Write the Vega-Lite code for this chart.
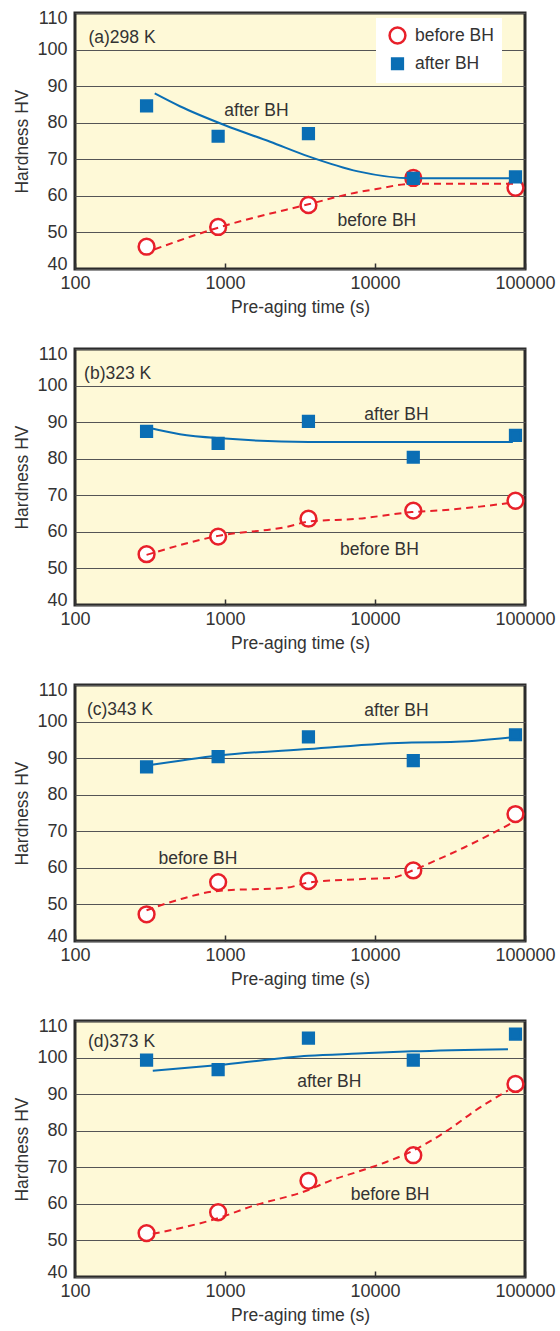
{
  "$schema": "https://vega.github.io/schema/vega-lite/v6.json",
  "autosize": "pad",
  "padding": {"left": 12, "top": 7, "right": 2, "bottom": 4},
  "background": "white",
  "datasets": {
    "points": [
      {"p": "a", "s": "before BH", "t": 300, "hv": 46.1},
      {"p": "a", "s": "before BH", "t": 900, "hv": 51.5},
      {"p": "a", "s": "before BH", "t": 3600, "hv": 57.5},
      {"p": "a", "s": "before BH", "t": 18000, "hv": 64.9},
      {"p": "a", "s": "before BH", "t": 86400, "hv": 62.2},
      {"p": "a", "s": "after BH", "t": 300, "hv": 84.6},
      {"p": "a", "s": "after BH", "t": 900, "hv": 76.3},
      {"p": "a", "s": "after BH", "t": 3600, "hv": 77.0},
      {"p": "a", "s": "after BH", "t": 18000, "hv": 64.8},
      {"p": "a", "s": "after BH", "t": 86400, "hv": 65.2},
      {"p": "b", "s": "before BH", "t": 300, "hv": 53.9},
      {"p": "b", "s": "before BH", "t": 900, "hv": 58.7},
      {"p": "b", "s": "before BH", "t": 3600, "hv": 63.6},
      {"p": "b", "s": "before BH", "t": 18000, "hv": 65.8},
      {"p": "b", "s": "before BH", "t": 86400, "hv": 68.5},
      {"p": "b", "s": "after BH", "t": 300, "hv": 87.5},
      {"p": "b", "s": "after BH", "t": 900, "hv": 84.2},
      {"p": "b", "s": "after BH", "t": 3600, "hv": 90.2},
      {"p": "b", "s": "after BH", "t": 18000, "hv": 80.4},
      {"p": "b", "s": "after BH", "t": 86400, "hv": 86.4},
      {"p": "c", "s": "before BH", "t": 300, "hv": 47.3},
      {"p": "c", "s": "before BH", "t": 900, "hv": 56.1},
      {"p": "c", "s": "before BH", "t": 3600, "hv": 56.4},
      {"p": "c", "s": "before BH", "t": 18000, "hv": 59.3},
      {"p": "c", "s": "before BH", "t": 86400, "hv": 74.7},
      {"p": "c", "s": "after BH", "t": 300, "hv": 87.6},
      {"p": "c", "s": "after BH", "t": 900, "hv": 90.4},
      {"p": "c", "s": "after BH", "t": 3600, "hv": 95.8},
      {"p": "c", "s": "after BH", "t": 18000, "hv": 89.3},
      {"p": "c", "s": "after BH", "t": 86400, "hv": 96.4},
      {"p": "d", "s": "before BH", "t": 300, "hv": 52.0},
      {"p": "d", "s": "before BH", "t": 900, "hv": 57.7},
      {"p": "d", "s": "before BH", "t": 3600, "hv": 66.3},
      {"p": "d", "s": "before BH", "t": 18000, "hv": 73.3},
      {"p": "d", "s": "before BH", "t": 86400, "hv": 92.8},
      {"p": "d", "s": "after BH", "t": 300, "hv": 99.3},
      {"p": "d", "s": "after BH", "t": 900, "hv": 96.7},
      {"p": "d", "s": "after BH", "t": 3600, "hv": 105.3},
      {"p": "d", "s": "after BH", "t": 18000, "hv": 99.3},
      {"p": "d", "s": "after BH", "t": 86400, "hv": 106.4}
    ],
    "curves": [
      {"p": "a", "s": "after BH", "t": 340, "hv": 88.0},
      {"p": "a", "s": "after BH", "t": 500, "hv": 84.5},
      {"p": "a", "s": "after BH", "t": 1000, "hv": 79.3},
      {"p": "a", "s": "after BH", "t": 2000, "hv": 74.8},
      {"p": "a", "s": "after BH", "t": 3600, "hv": 70.8},
      {"p": "a", "s": "after BH", "t": 7700, "hv": 66.7},
      {"p": "a", "s": "after BH", "t": 17600, "hv": 64.8},
      {"p": "a", "s": "after BH", "t": 85000, "hv": 64.8},
      {"p": "a", "s": "before BH", "t": 340, "hv": 45.4},
      {"p": "a", "s": "before BH", "t": 900, "hv": 51.3},
      {"p": "a", "s": "before BH", "t": 3600, "hv": 57.7},
      {"p": "a", "s": "before BH", "t": 7700, "hv": 61.0},
      {"p": "a", "s": "before BH", "t": 10000, "hv": 61.8},
      {"p": "a", "s": "before BH", "t": 17800, "hv": 63.3},
      {"p": "a", "s": "before BH", "t": 85000, "hv": 63.3},
      {"p": "b", "s": "after BH", "t": 300, "hv": 88.6},
      {"p": "b", "s": "after BH", "t": 500, "hv": 86.7},
      {"p": "b", "s": "after BH", "t": 1000, "hv": 85.5},
      {"p": "b", "s": "after BH", "t": 3600, "hv": 84.6},
      {"p": "b", "s": "after BH", "t": 83000, "hv": 84.6},
      {"p": "b", "s": "before BH", "t": 300, "hv": 53.7},
      {"p": "b", "s": "before BH", "t": 900, "hv": 58.9},
      {"p": "b", "s": "before BH", "t": 2600, "hv": 61.4},
      {"p": "b", "s": "before BH", "t": 3600, "hv": 62.8},
      {"p": "b", "s": "before BH", "t": 7700, "hv": 63.6},
      {"p": "b", "s": "before BH", "t": 17600, "hv": 65.4},
      {"p": "b", "s": "before BH", "t": 28000, "hv": 65.9},
      {"p": "b", "s": "before BH", "t": 50000, "hv": 66.9},
      {"p": "b", "s": "before BH", "t": 83000, "hv": 68.0},
      {"p": "c", "s": "after BH", "t": 300, "hv": 88.0},
      {"p": "c", "s": "after BH", "t": 500, "hv": 89.3},
      {"p": "c", "s": "after BH", "t": 900, "hv": 90.7},
      {"p": "c", "s": "after BH", "t": 3600, "hv": 92.5},
      {"p": "c", "s": "after BH", "t": 17600, "hv": 94.3},
      {"p": "c", "s": "after BH", "t": 32000, "hv": 94.4},
      {"p": "c", "s": "after BH", "t": 83000, "hv": 95.7},
      {"p": "c", "s": "before BH", "t": 300, "hv": 48.4},
      {"p": "c", "s": "before BH", "t": 500, "hv": 51.4},
      {"p": "c", "s": "before BH", "t": 900, "hv": 53.7},
      {"p": "c", "s": "before BH", "t": 2600, "hv": 54.6},
      {"p": "c", "s": "before BH", "t": 3600, "hv": 56.0},
      {"p": "c", "s": "before BH", "t": 7700, "hv": 56.9},
      {"p": "c", "s": "before BH", "t": 13000, "hv": 57.3},
      {"p": "c", "s": "before BH", "t": 17600, "hv": 59.2},
      {"p": "c", "s": "before BH", "t": 25000, "hv": 61.9},
      {"p": "c", "s": "before BH", "t": 39000, "hv": 65.5},
      {"p": "c", "s": "before BH", "t": 83000, "hv": 72.4},
      {"p": "d", "s": "after BH", "t": 330, "hv": 96.4},
      {"p": "d", "s": "after BH", "t": 1000, "hv": 98.1},
      {"p": "d", "s": "after BH", "t": 3600, "hv": 100.5},
      {"p": "d", "s": "after BH", "t": 7700, "hv": 101.1},
      {"p": "d", "s": "after BH", "t": 17600, "hv": 101.7},
      {"p": "d", "s": "after BH", "t": 77000, "hv": 102.3},
      {"p": "d", "s": "before BH", "t": 330, "hv": 51.8},
      {"p": "d", "s": "before BH", "t": 900, "hv": 56.1},
      {"p": "d", "s": "before BH", "t": 1500, "hv": 59.3},
      {"p": "d", "s": "before BH", "t": 3600, "hv": 63.8},
      {"p": "d", "s": "before BH", "t": 5000, "hv": 66.3},
      {"p": "d", "s": "before BH", "t": 7700, "hv": 68.8},
      {"p": "d", "s": "before BH", "t": 12000, "hv": 71.5},
      {"p": "d", "s": "before BH", "t": 17600, "hv": 74.4},
      {"p": "d", "s": "before BH", "t": 30500, "hv": 80.1},
      {"p": "d", "s": "before BH", "t": 47000, "hv": 85.6},
      {"p": "d", "s": "before BH", "t": 77000, "hv": 91.0}
    ],
    "labels": [
      {"p": "a", "txt": "(a)298 K", "t": 123, "hv": 103.3, "al": "left"},
      {"p": "a", "txt": "after BH", "t": 1620, "hv": 83.1, "al": "center"},
      {"p": "a", "txt": "before BH", "t": 10280, "hv": 53.1, "al": "center"},
      {"p": "b", "txt": "(b)323 K", "t": 115, "hv": 103.2, "al": "left"},
      {"p": "b", "txt": "after BH", "t": 13900, "hv": 91.9, "al": "center"},
      {"p": "b", "txt": "before BH", "t": 10700, "hv": 55.1, "al": "center"},
      {"p": "c", "txt": "(c)343 K", "t": 120, "hv": 103.1, "al": "left"},
      {"p": "c", "txt": "after BH", "t": 13900, "hv": 103.0, "al": "center"},
      {"p": "c", "txt": "before BH", "t": 660, "hv": 62.4, "al": "center"},
      {"p": "d", "txt": "(d)373 K", "t": 122, "hv": 104.3, "al": "left"},
      {"p": "d", "txt": "after BH", "t": 4960, "hv": 93.4, "al": "center"},
      {"p": "d", "txt": "before BH", "t": 12600, "hv": 62.5, "al": "center"}
    ]
  },
  "vconcat": [
    {
      "width": 450, "height": 256,
      "encoding": {
        "x": {"field": "t", "type": "quantitative", "scale": {"type": "log", "domain": [100, 100000]}, "axis": {"title": "Pre-aging time (s)", "values": [100, 1000, 10000, 100000], "format": "d", "grid": false, "ticks": true, "tickSize": -6, "tickColor": "#333", "tickWidth": 1.5, "labelPadding": 11, "titlePadding": 6, "labelFlush": false}},
        "y": {"field": "hv", "type": "quantitative", "scale": {"domain": [40, 110], "nice": false, "zero": false}, "axis": {"title": "Hardness HV", "values": [40, 50, 60, 70, 80, 90, 100, 110], "grid": true, "ticks": false, "labelPadding": 8, "titlePadding": 5, "labelOverlap": false, "labelFlush": true, "labelFlushOffset": 4}}
      },
      "layer": [
        {"data": {"name": "points"}, "transform": [{"filter": "datum.p == 'a' && datum.s == 'before BH'"}],
         "mark": {"type": "point", "strokeWidth": 2.5, "opacity": 1},
         "encoding": {
           "shape": {"field": "s", "type": "nominal", "scale": {"domain": ["before BH", "after BH"], "range": ["circle", "square"]}, "legend": {"orient": "none", "legendX": 301, "legendY": 5, "title": null}},
           "fill": {"field": "s", "type": "nominal", "scale": {"domain": ["before BH", "after BH"], "range": ["#ffffff", "#0a6eb4"]}, "legend": {"orient": "none", "legendX": 301, "legendY": 5, "title": null}},
           "stroke": {"field": "s", "type": "nominal", "scale": {"domain": ["before BH", "after BH"], "range": ["#e8202a", "#0a6eb4"]}, "legend": {"orient": "none", "legendX": 301, "legendY": 5, "title": null}},
           "size": {"field": "s", "type": "nominal", "scale": {"domain": ["before BH", "after BH"], "range": [250, 115]}, "legend": {"orient": "none", "legendX": 301, "legendY": 5, "title": null}}
         }},
        {"data": {"name": "curves"}, "transform": [{"filter": "datum.p == 'a' && datum.s == 'after BH'"}],
         "mark": {"type": "line", "color": "#0a6eb4", "strokeWidth": 2, "interpolate": "monotone"}},
        {"data": {"name": "curves"}, "transform": [{"filter": "datum.p == 'a' && datum.s == 'before BH'"}],
         "mark": {"type": "line", "color": "#e8202a", "strokeWidth": 2, "strokeDash": [7, 5], "interpolate": "monotone"}},
        {"data": {"name": "points"}, "transform": [{"filter": "datum.p == 'a' && datum.s == 'after BH'"}],
         "mark": {"type": "point", "strokeWidth": 2.5, "opacity": 1},
         "encoding": {
           "shape": {"field": "s", "type": "nominal"},
           "fill": {"field": "s", "type": "nominal"},
           "stroke": {"field": "s", "type": "nominal"},
           "size": {"field": "s", "type": "nominal"}
         }},
        {"data": {"name": "labels"}, "transform": [{"filter": "datum.p == 'a' && datum.al == 'left'"}],
         "mark": {"type": "text", "fontSize": 17.5, "color": "#333", "baseline": "middle", "align": "left"},
         "encoding": {"text": {"field": "txt"}}},
        {"data": {"name": "labels"}, "transform": [{"filter": "datum.p == 'a' && datum.al == 'center'"}],
         "mark": {"type": "text", "fontSize": 17.5, "color": "#333", "baseline": "middle", "align": "center"},
         "encoding": {"text": {"field": "txt"}}}
      ]
    },
    {
      "width": 450, "height": 256,
      "encoding": {
        "x": {"field": "t", "type": "quantitative", "scale": {"type": "log", "domain": [100, 100000]}, "axis": {"title": "Pre-aging time (s)", "values": [100, 1000, 10000, 100000], "format": "d", "grid": false, "ticks": true, "tickSize": -6, "tickColor": "#333", "tickWidth": 1.5, "labelPadding": 11, "titlePadding": 6, "labelFlush": false}},
        "y": {"field": "hv", "type": "quantitative", "scale": {"domain": [40, 110], "nice": false, "zero": false}, "axis": {"title": "Hardness HV", "values": [40, 50, 60, 70, 80, 90, 100, 110], "grid": true, "ticks": false, "labelPadding": 8, "titlePadding": 5, "labelOverlap": false, "labelFlush": true, "labelFlushOffset": 4}}
      },
      "layer": [
        {"data": {"name": "points"}, "transform": [{"filter": "datum.p == 'b' && datum.s == 'before BH'"}],
         "mark": {"type": "point", "strokeWidth": 2.5, "opacity": 1},
         "encoding": {
           "shape": {"field": "s", "type": "nominal", "scale": {"domain": ["before BH", "after BH"], "range": ["circle", "square"]}, "legend": null},
           "fill": {"field": "s", "type": "nominal", "scale": {"domain": ["before BH", "after BH"], "range": ["#ffffff", "#0a6eb4"]}, "legend": null},
           "stroke": {"field": "s", "type": "nominal", "scale": {"domain": ["before BH", "after BH"], "range": ["#e8202a", "#0a6eb4"]}, "legend": null},
           "size": {"field": "s", "type": "nominal", "scale": {"domain": ["before BH", "after BH"], "range": [250, 115]}, "legend": null}
         }},
        {"data": {"name": "curves"}, "transform": [{"filter": "datum.p == 'b' && datum.s == 'after BH'"}],
         "mark": {"type": "line", "color": "#0a6eb4", "strokeWidth": 2, "interpolate": "monotone"}},
        {"data": {"name": "curves"}, "transform": [{"filter": "datum.p == 'b' && datum.s == 'before BH'"}],
         "mark": {"type": "line", "color": "#e8202a", "strokeWidth": 2, "strokeDash": [7, 5], "interpolate": "monotone"}},
        {"data": {"name": "points"}, "transform": [{"filter": "datum.p == 'b' && datum.s == 'after BH'"}],
         "mark": {"type": "point", "strokeWidth": 2.5, "opacity": 1},
         "encoding": {
           "shape": {"field": "s", "type": "nominal", "legend": null},
           "fill": {"field": "s", "type": "nominal", "legend": null},
           "stroke": {"field": "s", "type": "nominal", "legend": null},
           "size": {"field": "s", "type": "nominal", "legend": null}
         }},
        {"data": {"name": "labels"}, "transform": [{"filter": "datum.p == 'b' && datum.al == 'left'"}],
         "mark": {"type": "text", "fontSize": 17.5, "color": "#333", "baseline": "middle", "align": "left"},
         "encoding": {"text": {"field": "txt"}}},
        {"data": {"name": "labels"}, "transform": [{"filter": "datum.p == 'b' && datum.al == 'center'"}],
         "mark": {"type": "text", "fontSize": 17.5, "color": "#333", "baseline": "middle", "align": "center"},
         "encoding": {"text": {"field": "txt"}}}
      ]
    },
    {
      "width": 450, "height": 256,
      "encoding": {
        "x": {"field": "t", "type": "quantitative", "scale": {"type": "log", "domain": [100, 100000]}, "axis": {"title": "Pre-aging time (s)", "values": [100, 1000, 10000, 100000], "format": "d", "grid": false, "ticks": true, "tickSize": -6, "tickColor": "#333", "tickWidth": 1.5, "labelPadding": 11, "titlePadding": 6, "labelFlush": false}},
        "y": {"field": "hv", "type": "quantitative", "scale": {"domain": [40, 110], "nice": false, "zero": false}, "axis": {"title": "Hardness HV", "values": [40, 50, 60, 70, 80, 90, 100, 110], "grid": true, "ticks": false, "labelPadding": 8, "titlePadding": 5, "labelOverlap": false, "labelFlush": true, "labelFlushOffset": 4}}
      },
      "layer": [
        {"data": {"name": "points"}, "transform": [{"filter": "datum.p == 'c' && datum.s == 'before BH'"}],
         "mark": {"type": "point", "strokeWidth": 2.5, "opacity": 1},
         "encoding": {
           "shape": {"field": "s", "type": "nominal", "scale": {"domain": ["before BH", "after BH"], "range": ["circle", "square"]}, "legend": null},
           "fill": {"field": "s", "type": "nominal", "scale": {"domain": ["before BH", "after BH"], "range": ["#ffffff", "#0a6eb4"]}, "legend": null},
           "stroke": {"field": "s", "type": "nominal", "scale": {"domain": ["before BH", "after BH"], "range": ["#e8202a", "#0a6eb4"]}, "legend": null},
           "size": {"field": "s", "type": "nominal", "scale": {"domain": ["before BH", "after BH"], "range": [250, 115]}, "legend": null}
         }},
        {"data": {"name": "curves"}, "transform": [{"filter": "datum.p == 'c' && datum.s == 'after BH'"}],
         "mark": {"type": "line", "color": "#0a6eb4", "strokeWidth": 2, "interpolate": "monotone"}},
        {"data": {"name": "curves"}, "transform": [{"filter": "datum.p == 'c' && datum.s == 'before BH'"}],
         "mark": {"type": "line", "color": "#e8202a", "strokeWidth": 2, "strokeDash": [7, 5], "interpolate": "monotone"}},
        {"data": {"name": "points"}, "transform": [{"filter": "datum.p == 'c' && datum.s == 'after BH'"}],
         "mark": {"type": "point", "strokeWidth": 2.5, "opacity": 1},
         "encoding": {
           "shape": {"field": "s", "type": "nominal", "legend": null},
           "fill": {"field": "s", "type": "nominal", "legend": null},
           "stroke": {"field": "s", "type": "nominal", "legend": null},
           "size": {"field": "s", "type": "nominal", "legend": null}
         }},
        {"data": {"name": "labels"}, "transform": [{"filter": "datum.p == 'c' && datum.al == 'left'"}],
         "mark": {"type": "text", "fontSize": 17.5, "color": "#333", "baseline": "middle", "align": "left"},
         "encoding": {"text": {"field": "txt"}}},
        {"data": {"name": "labels"}, "transform": [{"filter": "datum.p == 'c' && datum.al == 'center'"}],
         "mark": {"type": "text", "fontSize": 17.5, "color": "#333", "baseline": "middle", "align": "center"},
         "encoding": {"text": {"field": "txt"}}}
      ]
    },
    {
      "width": 450, "height": 256,
      "encoding": {
        "x": {"field": "t", "type": "quantitative", "scale": {"type": "log", "domain": [100, 100000]}, "axis": {"title": "Pre-aging time (s)", "values": [100, 1000, 10000, 100000], "format": "d", "grid": false, "ticks": true, "tickSize": -6, "tickColor": "#333", "tickWidth": 1.5, "labelPadding": 11, "titlePadding": 6, "labelFlush": false}},
        "y": {"field": "hv", "type": "quantitative", "scale": {"domain": [40, 110], "nice": false, "zero": false}, "axis": {"title": "Hardness HV", "values": [40, 50, 60, 70, 80, 90, 100, 110], "grid": true, "ticks": false, "labelPadding": 8, "titlePadding": 5, "labelOverlap": false, "labelFlush": true, "labelFlushOffset": 4}}
      },
      "layer": [
        {"data": {"name": "points"}, "transform": [{"filter": "datum.p == 'd' && datum.s == 'before BH'"}],
         "mark": {"type": "point", "strokeWidth": 2.5, "opacity": 1},
         "encoding": {
           "shape": {"field": "s", "type": "nominal", "scale": {"domain": ["before BH", "after BH"], "range": ["circle", "square"]}, "legend": null},
           "fill": {"field": "s", "type": "nominal", "scale": {"domain": ["before BH", "after BH"], "range": ["#ffffff", "#0a6eb4"]}, "legend": null},
           "stroke": {"field": "s", "type": "nominal", "scale": {"domain": ["before BH", "after BH"], "range": ["#e8202a", "#0a6eb4"]}, "legend": null},
           "size": {"field": "s", "type": "nominal", "scale": {"domain": ["before BH", "after BH"], "range": [250, 115]}, "legend": null}
         }},
        {"data": {"name": "curves"}, "transform": [{"filter": "datum.p == 'd' && datum.s == 'after BH'"}],
         "mark": {"type": "line", "color": "#0a6eb4", "strokeWidth": 2, "interpolate": "monotone"}},
        {"data": {"name": "curves"}, "transform": [{"filter": "datum.p == 'd' && datum.s == 'before BH'"}],
         "mark": {"type": "line", "color": "#e8202a", "strokeWidth": 2, "strokeDash": [7, 5], "interpolate": "monotone"}},
        {"data": {"name": "points"}, "transform": [{"filter": "datum.p == 'd' && datum.s == 'after BH'"}],
         "mark": {"type": "point", "strokeWidth": 2.5, "opacity": 1},
         "encoding": {
           "shape": {"field": "s", "type": "nominal", "legend": null},
           "fill": {"field": "s", "type": "nominal", "legend": null},
           "stroke": {"field": "s", "type": "nominal", "legend": null},
           "size": {"field": "s", "type": "nominal", "legend": null}
         }},
        {"data": {"name": "labels"}, "transform": [{"filter": "datum.p == 'd' && datum.al == 'left'"}],
         "mark": {"type": "text", "fontSize": 17.5, "color": "#333", "baseline": "middle", "align": "left"},
         "encoding": {"text": {"field": "txt"}}},
        {"data": {"name": "labels"}, "transform": [{"filter": "datum.p == 'd' && datum.al == 'center'"}],
         "mark": {"type": "text", "fontSize": 17.5, "color": "#333", "baseline": "middle", "align": "center"},
         "encoding": {"text": {"field": "txt"}}}
      ]
    }
  ],
  "spacing": 80,
  "bounds": "flush",
  "resolve": {
    "scale": {"shape": "independent", "fill": "independent", "stroke": "independent", "size": "independent"},
    "legend": {"shape": "independent", "fill": "independent", "stroke": "independent", "size": "independent"}
  },
  "config": {
    "font": "Liberation Sans",
    "view": {"stroke": "#2b2b2b", "strokeWidth": 3, "fill": "#fef9d7"},
    "axis": {"labelFontSize": 18, "titleFontSize": 17.5, "labelColor": "#333", "titleColor": "#333", "titleFontWeight": "normal", "gridColor": "#555", "gridWidth": 1, "domain": false, "labelFont": "Liberation Sans", "titleFont": "Liberation Sans"},
    "legend": {"fillColor": "#ffffff", "padding": 8, "labelFontSize": 17.5, "labelFont": "Liberation Sans", "labelColor": "#333", "rowPadding": 4, "symbolStrokeWidth": 2.5, "labelOffset": 8, "symbolOffset": 4}
  }
}
